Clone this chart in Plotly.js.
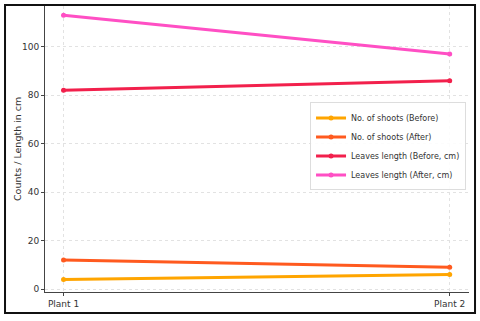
<!DOCTYPE html>
<html><head><meta charset="utf-8">
<script src="https://cdn.plot.ly/plotly-3.0.1.min.js"></script>
<style>html,body{margin:0;padding:0;background:#fff;}#chart{width:480px;height:321px;}</style>
</head><body><div id="chart"></div>
<script>
const categories = ["Plant 1", "Plant 2"];
const seriesNames = ["No. of shoots (Before)", "No. of shoots (After)", "Leaves length (Before, cm)", "Leaves length (After, cm)"];
const shootsBefore = [4, 6];
const shootsAfter = [12, 9];
const leavesBefore = [82, 86];
const leavesAfter = [113, 97];
const yTicks = [0, 20, 40, 60, 80, 100];
const yTitle = "Counts / Length in cm";

const colors = ["#FFA500", "#FF5A1F", "#F2204C", "#FF4FC4"];
const values = [shootsBefore, shootsAfter, leavesBefore, leavesAfter];

const traces = values.map((v, i) => ({
  type: "scatter", mode: "lines+markers",
  x: [0, 1], y: v, name: seriesNames[i],
  line: {color: colors[i], width: 3},
  marker: {color: colors[i], size: 5}
}));

const layout = {
  width: 480, height: 321,
  margin: {l: 45, r: 11, t: 6, b: 29, autoexpand: false},
  paper_bgcolor: "#fff", plot_bgcolor: "#fff",
  font: {family: "DejaVu Sans, sans-serif", color: "#333", size: 9},
  showlegend: true,
  legend: {x: 0.993, y: 0.509, xanchor: "right", yanchor: "middle",
    bgcolor: "rgba(255,255,255,0.9)", bordercolor: "#ddd", borderwidth: 1,
    font: {size: 8, color: "#333"}, tracegroupgap: 0, itemwidth: 30},
  xaxis: {range: [-0.048, 1.05], tickvals: [0, 1], ticktext: categories,
    showline: true, linecolor: "#444", linewidth: 1, mirror: false,
    ticks: "outside", ticklen: 3, tickcolor: "#444",
    showgrid: true, gridcolor: "#e2e2e2", griddash: "dot", gridwidth: 1, zeroline: false,
    tickfont: {size: 9, color: "#333"}},
  yaxis: {range: [-1.2, 116.8], tickvals: yTicks,
    showline: true, linecolor: "#444", linewidth: 1,
    ticks: "outside", ticklen: 3, tickcolor: "#444",
    showgrid: true, gridcolor: "#e2e2e2", griddash: "dot", gridwidth: 1, zeroline: false,
    tickfont: {size: 9, color: "#333"}},
  annotations: [{text: yTitle, xref: "paper", yref: "paper", x: -0.066, y: 0.5,
    xanchor: "center", yanchor: "middle", textangle: -90, showarrow: false,
    font: {size: 9.5, color: "#333"}}],
  shapes: [{type: "rect", xref: "paper", yref: "paper",
    x0: -0.0943, x1: 1.0142, y0: -0.0734, y1: 1.0035,
    line: {color: "#111", width: 2}, fillcolor: "rgba(0,0,0,0)", layer: "above"}]
};

Plotly.newPlot("chart", traces, layout, {displayModeBar: false, staticPlot: true});
</script></body></html>
